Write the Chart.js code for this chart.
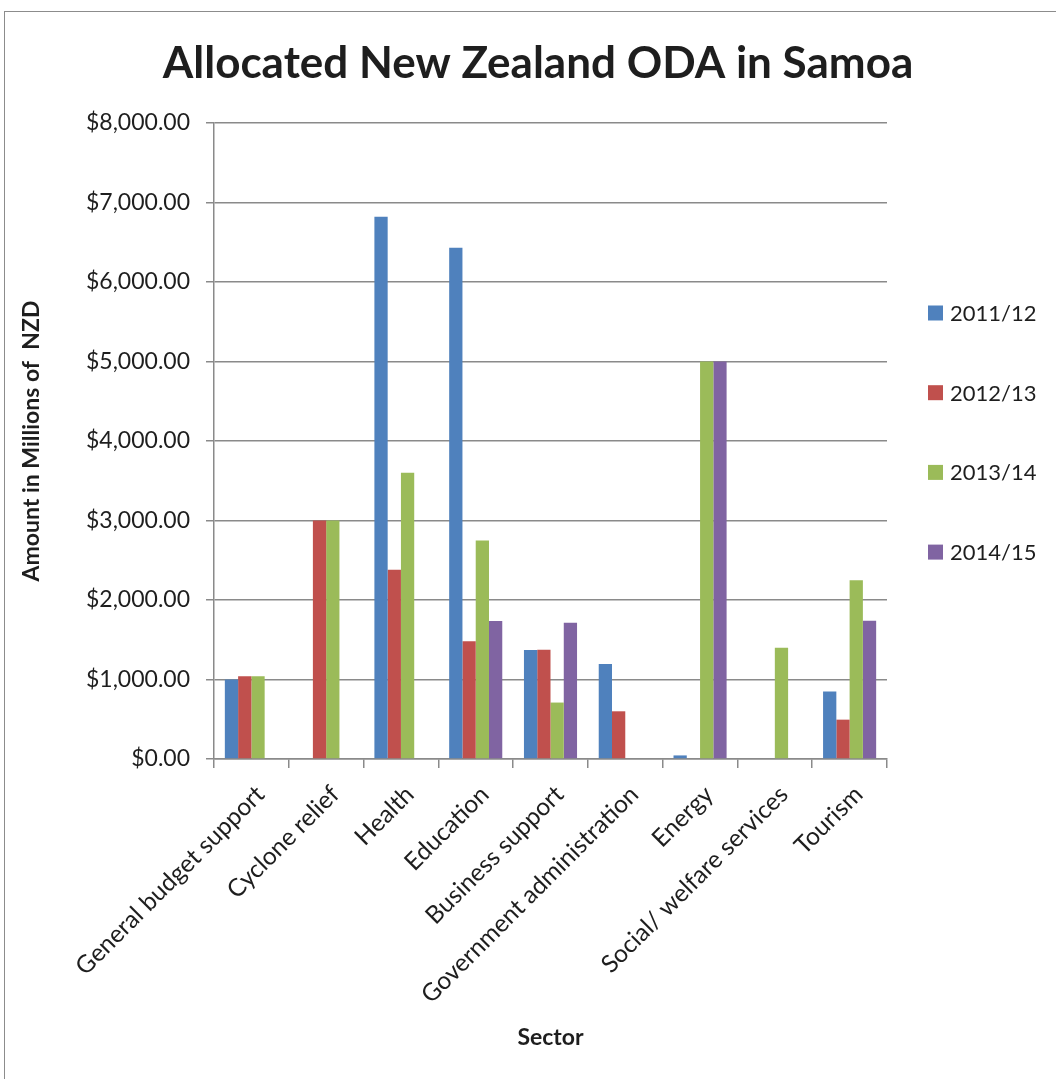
<!DOCTYPE html>
<html>
<head>
<meta charset="utf-8">
<script src="https://cdn.jsdelivr.net/npm/chart.js@4.4.1/dist/chart.umd.min.js"></script>
<style>
  html, body { margin: 0; padding: 0; background: #fff; }
  #wrap { position: relative; width: 1056px; height: 1079px; overflow: hidden; }
  #frame { position: absolute; left: 4px; top: 11px; width: 1100px; height: 1100px;
           border: 1.5px solid #8c8c8c; box-sizing: border-box; }
  #chart { position: absolute; left: 0; top: 0; }
</style>
</head>
<body>
<div id="wrap">
  <div id="frame"></div>
  <canvas id="chart" width="1056" height="1079"></canvas>
</div>
<script>
/* Allocated New Zealand ODA in Samoa - grouped bars */

const sectors = [
  "General budget support", "Cyclone relief", "Health", "Education",
  "Business support", "Government administration", "Energy",
  "Social/ welfare services", "Tourism"
];
const years = ["2011/12", "2012/13", "2013/14", "2014/15"];

const oda2011 = [1000, null, 6820, 6430, 1370, 1195, 45, null, 850];
const oda2012 = [1040, 3000, 2380, 1480, 1375, 600, null, null, 495];
const oda2013 = [1040, 3000, 3600, 2750, 710, null, 5000, 1400, 2250];
const oda2014 = [null, null, null, 1735, 1715, null, 5000, null, 1740];

const yTicks = [0, 1000, 2000, 3000, 4000, 5000, 6000, 7000, 8000];

const colors = ["#4F81BD", "#C0504D", "#9BBB59", "#8064A2"];
const gridGray = "#8a8a8a";
const textColor = "#1e1e1e";
const fontFamily = "Lato, 'Open Sans', sans-serif";
const chartTitle = "Allocated New Zealand ODA in Samoa";

const series = [oda2011, oda2012, oda2013, oda2014];

// title centred on the whole frame, legend on the right with wide spacing
const frameText = {
  id: "frameText",
  afterDraw(chart) {
    const ctx = chart.ctx;
    ctx.save();
    ctx.fillStyle = textColor;
    ctx.textAlign = "center";
    ctx.textBaseline = "middle";
    ctx.font = "bold 44px " + fontFamily;
    ctx.fillText(chartTitle, 538, 64);

    ctx.textAlign = "left";
    ctx.font = "22px " + fontFamily;
    chart.data.datasets.forEach((ds, i) => {
      const y = 313 + i * 79.7;
      ctx.fillStyle = ds.backgroundColor;
      ctx.fillRect(928, y - 7.5, 15, 15);
      ctx.fillStyle = textColor;
      ctx.fillText(ds.label, 950, y + 1);
    });
    ctx.restore();
  }
};

new Chart(document.getElementById("chart"), {
  type: "bar",
  data: {
    labels: sectors,
    datasets: years.map((y, i) => ({
      label: y,
      data: series[i],
      backgroundColor: colors[i],
      borderWidth: 0,
      categoryPercentage: 0.71,
      barPercentage: 1.0
    }))
  },
  options: {
    responsive: false,
    animation: false,
    layout: { padding: { top: 123, left: 10, right: 169, bottom: 0 } },
    plugins: {
      legend: { display: false },
      tooltip: { enabled: false },
      title: { display: false }
    },
    scales: {
      x: {
        offset: true,
        afterFit(scale) { scale.height = 1079 - 759; },
        grid: { drawOnChartArea: false, drawTicks: true, tickLength: 9, color: gridGray, lineWidth: 1.5, offset: true },
        border: { color: gridGray, width: 1.5 },
        ticks: {
          color: textColor,
          font: { family: fontFamily, size: 24.5 },
          maxRotation: 45, minRotation: 45,
          padding: 12,
          labelOffset: 9
        },
        title: {
          display: true,
          text: "Sector",
          color: textColor,
          font: { family: fontFamily, size: 23, weight: "bold" },
          padding: { top: 0, bottom: 28 }
        }
      },
      y: {
        min: 0,
        max: 8000,
        afterFit(scale) { scale.width = 214 - 10; },
        afterBuildTicks(scale) { scale.ticks = yTicks.map(v => ({ value: v })); },
        grid: { color: gridGray, lineWidth: 1.5, tickLength: 8 },
        border: { color: gridGray, width: 1.5 },
        ticks: {
          color: textColor,
          font: { family: fontFamily, size: 23 },
          padding: 16,
          callback: v => "$" + Number(v).toLocaleString("en-US", { minimumFractionDigits: 2, maximumFractionDigits: 2 })
        },
        title: {
          display: true,
          text: "Amount in Millions of  NZD",
          color: textColor,
          font: { family: fontFamily, size: 23, weight: "bold" },
          padding: { top: 8, bottom: 0 }
        }
      }
    }
  },
  plugins: [frameText]
});
</script>
</body>
</html>
